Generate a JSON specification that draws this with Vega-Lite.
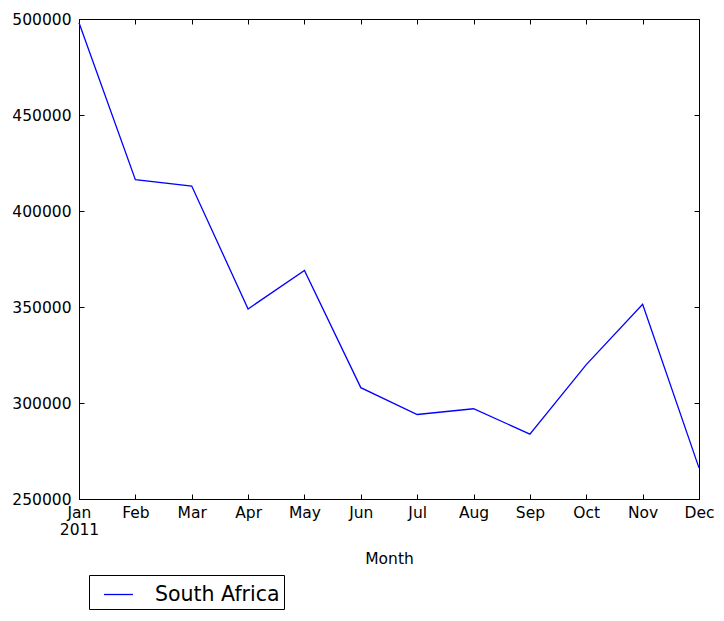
{
  "$schema": "https://vega.github.io/schema/vega-lite/v6.json",
  "width": 620,
  "height": 480,
  "autosize": "none",
  "padding": {"left": 79, "top": 19, "right": 25, "bottom": 122},
  "background": "white",
  "config": {
    "font": "DejaVu Sans",
    "view": {"stroke": "black", "strokeWidth": 1},
    "axis": {
      "domainColor": "black",
      "tickColor": "black",
      "labelColor": "black",
      "titleColor": "black",
      "labelFont": "DejaVu Sans",
      "titleFont": "DejaVu Sans",
      "labelFontSize": 15.5,
      "titleFontSize": 15.5,
      "titleFontWeight": "normal",
      "grid": false,
      "tickSize": -5,
      "tickWidth": 1
    }
  },
  "data": {
    "values": [
      {"Month": "Jan", "Country": "South Africa", "Value": 498000},
      {"Month": "Feb", "Country": "South Africa", "Value": 416300},
      {"Month": "Mar", "Country": "South Africa", "Value": 413000},
      {"Month": "Apr", "Country": "South Africa", "Value": 349000},
      {"Month": "May", "Country": "South Africa", "Value": 369000},
      {"Month": "Jun", "Country": "South Africa", "Value": 308000},
      {"Month": "Jul", "Country": "South Africa", "Value": 294000},
      {"Month": "Aug", "Country": "South Africa", "Value": 297000},
      {"Month": "Sep", "Country": "South Africa", "Value": 283800},
      {"Month": "Oct", "Country": "South Africa", "Value": 320000},
      {"Month": "Nov", "Country": "South Africa", "Value": 351400},
      {"Month": "Dec", "Country": "South Africa", "Value": 266200}
    ]
  },
  "layer": [
    {
      "mark": {"type": "line", "strokeWidth": 1.3},
      "encoding": {
        "x": {
          "field": "Month",
          "type": "ordinal",
          "sort": null,
          "scale": {"type": "point", "padding": 0},
          "axis": {
            "orient": "bottom",
            "labelAngle": 0,
            "labelPadding": 11,
            "titlePadding": 13,
            "labelExpr": "datum.value == 'Jan' ? ['Jan', '2011'] : datum.value"
          }
        },
        "y": {
          "field": "Value",
          "type": "quantitative",
          "scale": {"domain": [250000, 500000], "nice": false, "zero": false},
          "axis": {"orient": "left", "values": [250000, 300000, 350000, 400000, 450000, 500000], "format": "d", "title": null, "labelPadding": 13}
        },
        "color": {
          "field": "Country",
          "type": "nominal",
          "scale": {"range": ["#0000ff"]},
          "legend": {
            "orient": "none",
            "legendX": 10,
            "legendY": 556,
            "title": null,
            "symbolType": "stroke",
            "symbolSize": 841,
            "symbolStrokeWidth": 1.3,
            "symbolOffset": 10,
            "labelFontSize": 20.5,
            "labelFont": "DejaVu Sans",
            "labelColor": "black",
            "labelOffset": 21,
            "strokeColor": "black",
            "fillColor": "white",
            "padding": 4,
            "cornerRadius": 0
          }
        }
      }
    },
    {
      "mark": {"type": "line", "opacity": 0},
      "encoding": {
        "x": {
          "field": "Month",
          "type": "ordinal",
          "sort": null,
          "scale": {"type": "point", "padding": 0},
          "axis": {"orient": "top", "labels": false, "title": null, "domain": false}
        },
        "y": {
          "field": "Value",
          "type": "quantitative",
          "scale": {"domain": [250000, 500000], "nice": false, "zero": false},
          "axis": {"orient": "right", "labels": false, "title": null, "domain": false, "values": [250000, 300000, 350000, 400000, 450000, 500000]}
        }
      }
    }
  ],
  "resolve": {"scale": {"x": "independent", "y": "independent"}, "axis": {"x": "independent", "y": "independent"}}
}
